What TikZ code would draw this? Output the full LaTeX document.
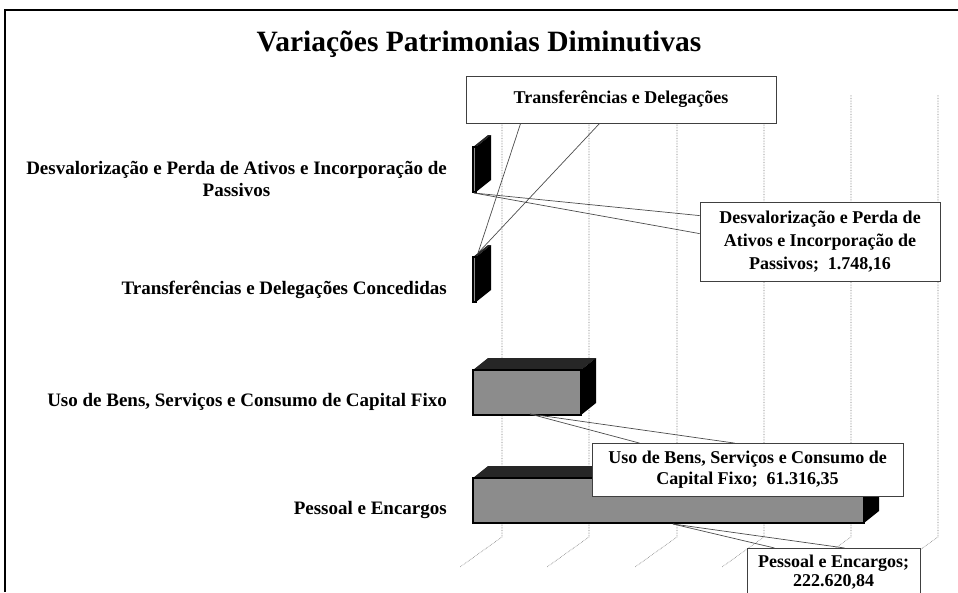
\documentclass[tikz,border=0pt]{standalone}
\usepackage{fontspec}
\setmainfont{Liberation Serif}

\tikzset{
  titulo/.style={font=\bfseries\fontsize{29.5}{32}\selectfont, inner sep=0pt},
  rotulo/.style={font=\bfseries\fontsize{19}{22}\selectfont, align=center, inner sep=0pt},
  caixa/.style={draw=black!75, line width=0.8pt, fill=white, align=center,
    font=\bfseries\fontsize{18}{23}\selectfont, inner sep=2pt},
  grade/.style={black!55, densely dotted, line width=0.6pt},
  guia/.style={black!70, line width=0.7pt},
  frente/.style={draw=black, line width=1.6pt, fill=black!45}
}

% barra 3D: topo da face frontal, fim da barra
\newcommand{\barra}[2]{%
  \fill[black!85] (473,#1) -- ++(15,-12) -- (#2+15,#1-12) -- (#2,#1) -- cycle;
  \fill[black] (#2,#1) -- ++(15,-12) -- ++(0,45) -- ++(-15,12) -- cycle;
  \draw[frente] (473,#1) rectangle (#2,#1+45);
}

\begin{document}
\begin{tikzpicture}[x=1pt,y=-1pt]
  \useasboundingbox (0,0) rectangle (958,592);
  \draw[line width=1.5pt] (5,592) -- (5,10) -- (958,10);
  \node[titulo] (titulo) at (479,44) {Variações Patrimonias Diminutivas};

  % grade do fundo e do piso
  \foreach \x in {502,589,677,764,851,938}
    \draw[grade] (\x,95) -- (\x,537) -- ++(-42,30);

  % barras
  \barra{147}{476}
  \barra{257}{476}
  \barra{370}{581}
  \barra{478}{864}

  % categorias
  \node[rotulo, anchor=east] (catDesv) at (447,179) {Desvalorização e Perda de Ativos e Incorporação de\\Passivos};
  \node[rotulo, anchor=east] (catTransf) at (447,290) {Transferências e Delegações Concedidas};
  \node[rotulo, anchor=east] (catUso) at (447,402) {Uso de Bens, Serviços e Consumo de Capital Fixo};
  \node[rotulo, anchor=east] (catPess) at (447,510) {Pessoal e Encargos};

  % pontos de partida das guias
  \coordinate (apTransf) at (478,253);
  \coordinate (apDesv) at (474,193);
  \coordinate (apUso) at (530,414);
  \coordinate (apPess) at (673,524);

  % rotulos de dados
  \node[caixa, minimum width=310pt, minimum height=47pt] (lblTransf) at (621,99.5) {Transferências e Delegações};
  \node[caixa, minimum width=240pt, minimum height=79pt] (lblDesv) at (820,241.5) {Desvalorização e Perda de\\Ativos e Incorporação de\\Passivos;~ 1.748,16};
  \node[caixa, minimum width=311pt, minimum height=53pt, font=\bfseries\fontsize{18}{21}\selectfont] (lblUso) at (747.5,470) {Uso de Bens, Serviços e Consumo de\\Capital Fixo;~ 61.316,35};
  \node[caixa, anchor=north, minimum width=173pt, inner ysep=6.5pt, text depth=30pt, font=\bfseries\fontsize{18}{19}\selectfont] (lblPess) at (833.5,548) {Pessoal e Encargos;\\222.620,84};

  \draw[guia] (apTransf) -- ([xshift=55pt]lblTransf.south west);
  \draw[guia] (apTransf) -- ([xshift=134pt]lblTransf.south west);
  \draw[guia] (apDesv) -- ([yshift=-14pt]lblDesv.north west);
  \draw[guia] (apDesv) -- ([yshift=-32pt]lblDesv.north west);
  \draw[guia] (apUso) -- ([xshift=48pt]lblUso.north west);
  \draw[guia] (apUso) -- ([xshift=143pt]lblUso.north west);
  \draw[guia] (apPess) -- ([xshift=28pt]lblPess.north west);
  \draw[guia] (apPess) -- ([xshift=98pt]lblPess.north west);
\end{tikzpicture}
\end{document}
